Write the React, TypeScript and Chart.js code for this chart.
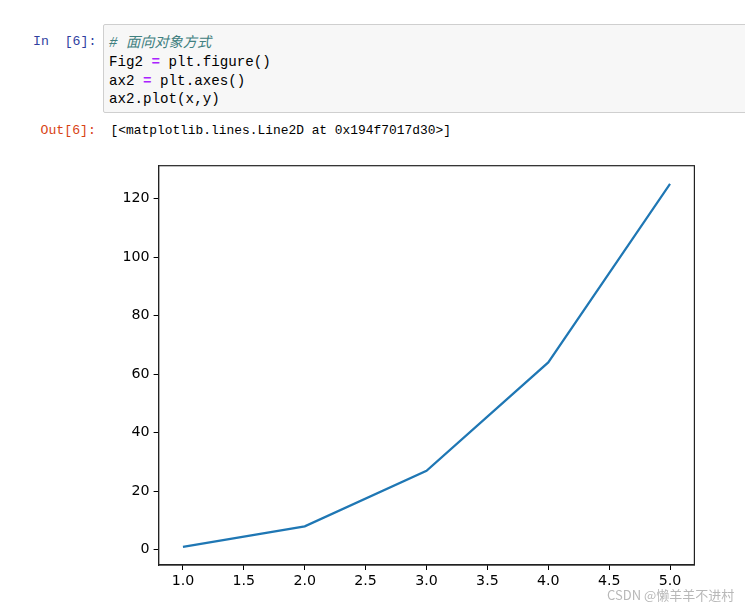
import React, { useEffect, useRef } from "react";
import { Chart, registerables } from "chart.js";

Chart.register(...registerables);

const xValues = [1, 2, 3, 4, 5];
const yValues = [1, 8, 27, 64, 125];
const xTicks = [1.0, 1.5, 2.0, 2.5, 3.0, 3.5, 4.0, 4.5, 5.0];
const yTicks = [0, 20, 40, 60, 80, 100, 120];
const xRange = [0.8, 5.2];
const yRange = [-5.2, 131.2];

const CANVAS_LEFT = 100;
const CANVAS_TOP = 150;
const CANVAS_W = 620;
const CANVAS_H = 450;

const boxPlugin = {
  id: "boxPlugin",
  afterDraw(chart: any) {
    const { ctx, chartArea } = chart;
    ctx.save();
    ctx.strokeStyle = "#222";
    ctx.lineWidth = 1.2;
    ctx.strokeRect(chartArea.left, chartArea.top, chartArea.right - chartArea.left, chartArea.bottom - chartArea.top);
    ctx.restore();
  },
};

function PlotCanvas() {
  const ref = useRef<HTMLCanvasElement | null>(null);
  useEffect(() => {
    if (!ref.current) return;
    const font = { family: "'DejaVu Sans', sans-serif", size: 14.2 };
    const chart = new Chart(ref.current, {
      type: "line",
      data: {
        datasets: [
          {
            data: xValues.map((x, i) => ({ x, y: yValues[i] })),
            borderColor: "#1f77b4",
            borderWidth: 2.2,
            pointRadius: 0,
            tension: 0,
            fill: false,
          },
        ],
      },
      options: {
        animation: false,
        responsive: false,
        devicePixelRatio: 1,
        layout: { padding: { left: 0, top: 15.7, right: 25.6, bottom: 0 } },
        plugins: { legend: { display: false }, tooltip: { enabled: false } },
        scales: {
          x: {
            type: "linear",
            min: xRange[0],
            max: xRange[1],
            afterBuildTicks: (s: any) => {
              s.ticks = xTicks.map((v) => ({ value: v }));
            },
            afterFit: (s: any) => {
              s.height = 35;
            },
            grid: { drawOnChartArea: false, drawTicks: true, tickLength: 5, tickColor: "#000", tickWidth: 1 },
            border: { display: true, color: "#222", width: 1.2 },
            ticks: {
              color: "#000",
              font,
              padding: 3,
              maxRotation: 0,
              autoSkip: false,
              callback: (v: any) => Number(v).toFixed(1),
            },
          },
          y: {
            type: "linear",
            min: yRange[0],
            max: yRange[1],
            afterBuildTicks: (s: any) => {
              s.ticks = yTicks.map((v) => ({ value: v }));
            },
            afterFit: (s: any) => {
              s.width = 58.6;
            },
            grid: { drawOnChartArea: false, drawTicks: true, tickLength: 5, tickColor: "#000", tickWidth: 1 },
            border: { display: true, color: "#222", width: 1.2 },
            ticks: {
              color: "#000",
              font,
              padding: 4,
              autoSkip: false,
              callback: (v: any) => String(v),
            },
          },
        },
      },
      plugins: [boxPlugin],
    } as any);
    return () => chart.destroy();
  }, []);
  return (
    <canvas
      ref={ref}
      width={CANVAS_W}
      height={CANVAS_H}
      style={{ position: "absolute", left: CANVAS_LEFT, top: CANVAS_TOP, width: CANVAS_W, height: CANVAS_H }}
    />
  );
}

const codeFont = "'Liberation Mono', 'DejaVu Sans Mono', 'Noto Sans CJK SC', monospace";
const promptFont = "'Liberation Mono', 'DejaVu Sans Mono', monospace";

export default function App() {
  const codeLine = (top: number, children: React.ReactNode) => (
    <div
      style={{
        position: "absolute",
        left: 109,
        top,
        fontFamily: codeFont,
        fontSize: 14.2,
        lineHeight: "18.5px",
        whiteSpace: "pre",
        color: "#000",
      }}
    >
      {children}
    </div>
  );
  const eq = <span style={{ color: "#AA22FF", fontWeight: "bold" }}>=</span>;
  return (
    <div
      style={{
        position: "absolute",
        left: 0,
        top: 0,
        width: 745,
        height: 609,
        overflow: "hidden",
        background: "#fff",
      }}
    >
      <div
        style={{
          position: "absolute",
          left: 102.7,
          top: 24.3,
          width: 700,
          height: 89,
          background: "#f7f7f7",
          border: "1px solid #cfcfcf",
          borderRadius: 2,
          boxSizing: "border-box",
        }}
      />
      <div
        style={{
          position: "absolute",
          left: 33,
          top: 33,
          fontFamily: promptFont,
          fontSize: 13.2,
          lineHeight: "18.5px",
          whiteSpace: "pre",
          color: "#303F9F",
        }}
      >
        {"In  [6]:"}
      </div>
      {codeLine(
        33.7,
        <span style={{ color: "#408080", fontStyle: "italic" }}>{"# 面向对象方式"}</span>
      )}
      {codeLine(
        53.4,
        <>
          {"Fig2 "}
          {eq}
          {" plt.figure()"}
        </>
      )}
      {codeLine(
        71.8,
        <>
          {"ax2 "}
          {eq}
          {" plt.axes()"}
        </>
      )}
      {codeLine(90.3, <>{"ax2.plot(x,y)"}</>)}
      <div
        style={{
          position: "absolute",
          left: 40.5,
          top: 122,
          fontFamily: promptFont,
          fontSize: 13.2,
          lineHeight: "18.5px",
          whiteSpace: "pre",
          color: "#D84315",
        }}
      >
        {"Out[6]:"}
      </div>
      <div
        style={{
          position: "absolute",
          left: 110.5,
          top: 122,
          fontFamily: promptFont,
          fontSize: 12.9,
          lineHeight: "18.5px",
          whiteSpace: "pre",
          color: "#000",
        }}
      >
        {"[<matplotlib.lines.Line2D at 0x194f7017d30>]"}
      </div>
      <PlotCanvas />
      <div
        style={{
          position: "absolute",
          left: 607,
          top: 586,
          fontFamily: "'Noto Sans CJK SC', 'Noto Sans', sans-serif",
          fontSize: 13,
          lineHeight: "18px",
          whiteSpace: "pre",
          color: "#b8b8b8",
        }}
      >
        {"CSDN @懒羊羊不进村"}
      </div>
    </div>
  );
}
